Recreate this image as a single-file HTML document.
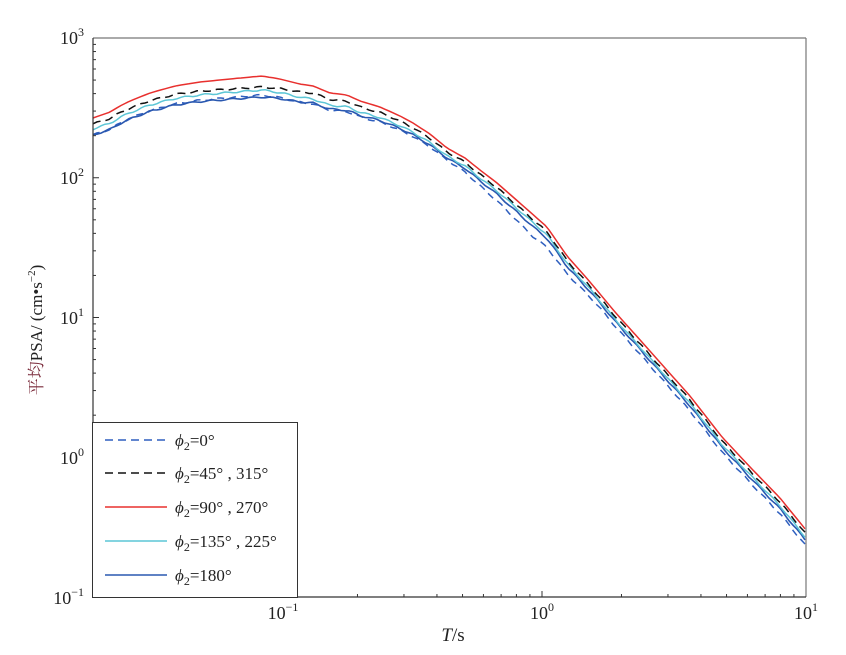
<!DOCTYPE html>
<html><head><meta charset="utf-8"><style>
body{margin:0;background:#fff;}
svg{display:block;font-family:"Liberation Serif","Noto Serif CJK SC",serif;}
</style></head><body>
<svg id="s" width="846" height="655" xmlns="http://www.w3.org/2000/svg">
<rect width="846" height="655" fill="#fff"/>
<g id="plot"></g>
<g id="ax"></g>
<rect x="92.5" y="422.5" width="205" height="175" fill="#fff" stroke="#333" stroke-width="1"/>
<line x1="105" y1="440" x2="167" y2="440" stroke="#2f5fbf" stroke-width="1.5" stroke-dasharray="8,5"/>
<line x1="105" y1="473" x2="167" y2="473" stroke="#111" stroke-width="1.5" stroke-dasharray="8,5"/>
<line x1="105" y1="507" x2="167" y2="507" stroke="#e8302e" stroke-width="1.5"/>
<line x1="105" y1="541" x2="167" y2="541" stroke="#5cc6d6" stroke-width="1.5"/>
<line x1="105" y1="575" x2="167" y2="575" stroke="#2a58b0" stroke-width="1.5"/>
<g font-size="17" fill="#222">
<text x="175" y="446"><tspan font-style="italic">ϕ</tspan><tspan font-size="12" dy="4">2</tspan><tspan dy="-4">=0°</tspan></text>
<text x="175" y="479"><tspan font-style="italic">ϕ</tspan><tspan font-size="12" dy="4">2</tspan><tspan dy="-4">=45° , 315°</tspan></text>
<text x="175" y="513"><tspan font-style="italic">ϕ</tspan><tspan font-size="12" dy="4">2</tspan><tspan dy="-4">=90° , 270°</tspan></text>
<text x="175" y="547"><tspan font-style="italic">ϕ</tspan><tspan font-size="12" dy="4">2</tspan><tspan dy="-4">=135° , 225°</tspan></text>
<text x="175" y="581"><tspan font-style="italic">ϕ</tspan><tspan font-size="12" dy="4">2</tspan><tspan dy="-4">=180°</tspan></text>
</g>
<text x="453" y="641" font-size="19" text-anchor="middle" fill="#222"><tspan font-style="italic">T</tspan>/s</text>
<text transform="translate(42,330) rotate(-90)" font-size="17" text-anchor="middle" fill="#222"><tspan fill="#7a2a3a">平均</tspan>PSA/ (cm•s<tspan font-size="11" dy="-7">−2</tspan><tspan dy="7">)</tspan></text>
</svg>
<script>
const L=93,R=806,T=38,B=597;
const X=t=>278+264*(Math.log10(t)+1);
const Y=v=>38+139.75*(3-Math.log10(v));
let ax='';
ax+=`<line x1="${L}" y1="${T}" x2="${R}" y2="${T}" stroke="#777" stroke-width="1.2"/>`;
ax+=`<line x1="${R}" y1="${T}" x2="${R}" y2="${B}" stroke="#777" stroke-width="1.2"/>`;
ax+=`<line x1="${L}" y1="${T}" x2="${L}" y2="${B}" stroke="#333" stroke-width="1.2"/>`;
ax+=`<line x1="${L}" y1="${B}" x2="${R}" y2="${B}" stroke="#333" stroke-width="1.2"/>`;
for(let d=-2;d<=0;d++)for(let m=1;m<=9;m++){const t=m*Math.pow(10,d);const x=X(t);if(x<L+1||x>R-1)continue;
 ax+=`<line x1="${x}" y1="${B}" x2="${x}" y2="${B-(m==1?6:3)}" stroke="#333"/>`;}
for(let d=-1;d<=2;d++)for(let m=1;m<=9;m++){const v=m*Math.pow(10,d);const y=Y(v);if(y<T+1||y>B-1)continue;
 ax+=`<line x1="${L}" y1="${y}" x2="${L+(m==1?6:3)}" y2="${y}" stroke="#333"/>`;}
[[-1,283],[0,542],[1,806]].forEach(([e,x])=>{ax+=`<text x="${x}" y="619" font-size="18" text-anchor="middle" fill="#222">10<tspan font-size="12" dy="-8">${e<0?'−1':e}</tspan></text>`;});
[[3,38],[2,178],[1,318],[0,458],[-1,598]].forEach(([e,y])=>{ax+=`<text x="84" y="${y+6}" font-size="18" text-anchor="end" fill="#222">10<tspan font-size="12" dy="-8">${e<0?'−1':e}</tspan></text>`;});
document.getElementById('ax').innerHTML=ax;
const red=[[93,118],[110,112],[120,106],[130,101],[150,93],[175,86],[200,82],[230,79],[262,76],[280,79],[300,84],[313,86],[330,93],[347,95],[360,101],[380,107],[400,116],[413,123],[430,134],[447,148],[465,158],[480,170],[497,183],[513,197],[530,212],[547,227],[567,256],[590,282],[615,312],[641,341],[665,368],[690,396],[722,437],[750,467],[780,498],[806,530]];
function interp(arr,x){for(let i=0;i<arr.length-1;i++){if(x<=arr[i+1][0]){const f=(x-arr[i][0])/(arr[i+1][0]-arr[i][0]);return arr[i][1]+f*(arr[i+1][1]-arr[i][1]);}}return arr[arr.length-1][1];}
const kx=[93,262,313,447,533,600,806];
function off(o){return kx.map((x,i)=>[x,o[i]]);}
const series=[
 {o:[17,19,18,12,22,14,16],c:"#2f5fbf",d:"7,5",w:1.5},
 {o:[17,21,17,10,12,9,11],c:"#2a58b0",d:"",w:1.6},
 {o:[11,14,13,8,8,7,8],c:"#5cc6d6",d:"",w:1.5},
 {o:[6,11,7,4,5,4,4],c:"#111",d:"8,5",w:1.5},
 {o:[0,0,0,0,0,0,0],c:"#e8302e",d:"",w:1.5}];
let g='';
series.forEach((s,si)=>{const of=off(s.o);let p='';
 for(let x=93;x<=806;x+=4){let y=interp(red,x)+interp(of,x)+(si<4?Math.sin(x*0.31+si*2)*0.8:0);p+=(p?'L':'M')+x+','+y.toFixed(1);}
 g+=`<path d="${p}" fill="none" stroke="${s.c}" stroke-width="${s.w}" ${s.d?`stroke-dasharray="${s.d}"`:''}/>`;});
document.getElementById('plot').innerHTML=g;
</script>
</body></html>
